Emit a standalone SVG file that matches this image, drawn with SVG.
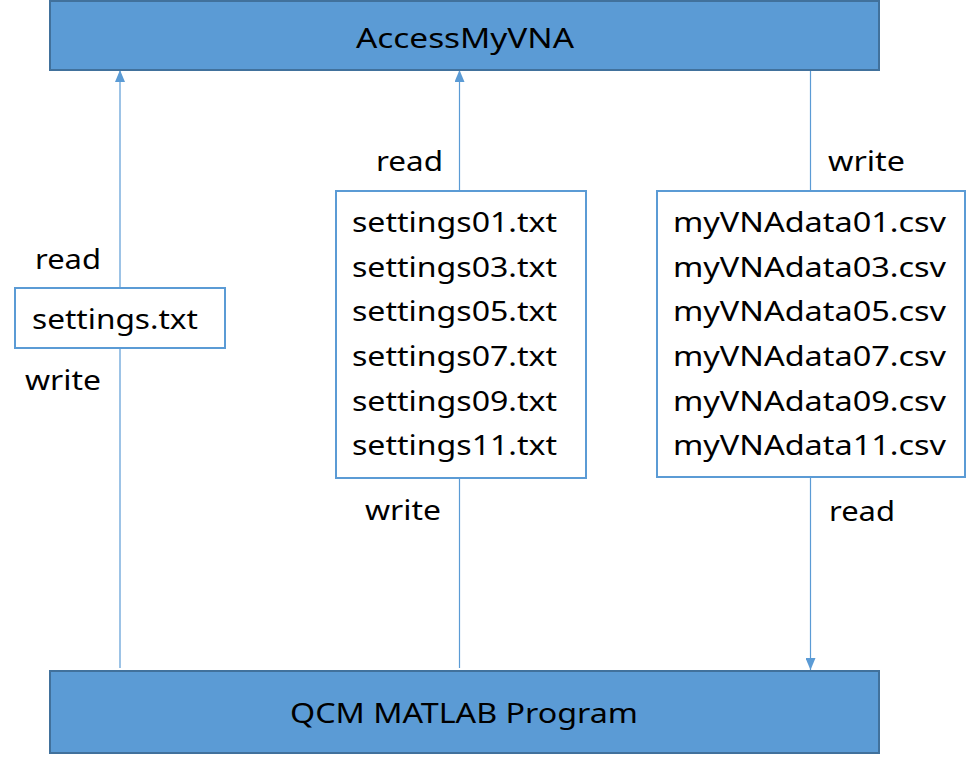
<svg xmlns="http://www.w3.org/2000/svg" width="970" height="758" viewBox="0 0 970 758">
<style>
.big{fill:#5b9bd5;stroke:#41719c;stroke-width:2}
.file{fill:#fff;stroke:#5b9bd5;stroke-width:2}
.t{font-family:"Noto Sans","Liberation Sans",sans-serif;font-size:28px;fill:#000}
.c{stroke:#5b9bd5;stroke-width:1.2;fill:none}
</style>
<defs>
<marker id="ah" markerWidth="12" markerHeight="10" refX="12" refY="5" orient="auto" markerUnits="userSpaceOnUse">
<path d="M0,0 L12,5 L0,10 Z" fill="#5b9bd5"/>
</marker>
</defs>
<g id="connectors">
<line class="c" x1="120" y1="668" x2="120" y2="70" marker-end="url(#ah)"/>
<line class="c" x1="459.5" y1="668" x2="459.5" y2="70" marker-end="url(#ah)"/>
<line class="c" x1="810.5" y1="70" x2="810.5" y2="670" marker-end="url(#ah)"/>
<text class="t" x="35" y="269" textLength="66" lengthAdjust="spacingAndGlyphs">read</text>
<text class="t" x="25" y="390" textLength="76" lengthAdjust="spacingAndGlyphs">write</text>
<text class="t" x="376" y="171" textLength="67" lengthAdjust="spacingAndGlyphs">read</text>
<text class="t" x="365" y="520" textLength="76" lengthAdjust="spacingAndGlyphs">write</text>
<text class="t" x="828" y="171" textLength="77" lengthAdjust="spacingAndGlyphs">write</text>
<text class="t" x="829" y="521" textLength="66" lengthAdjust="spacingAndGlyphs">read</text>
</g>
<g id="accessmyvna">
<rect class="big" x="50" y="1" width="829" height="69"/>
<text class="t" x="465" y="48" text-anchor="middle" textLength="218" lengthAdjust="spacingAndGlyphs">AccessMyVNA</text>
</g>
<g id="qcm">
<rect class="big" x="50" y="671" width="829" height="82"/>
<text class="t" x="464" y="723" text-anchor="middle" textLength="348" lengthAdjust="spacingAndGlyphs">QCM MATLAB Program</text>
</g>
<g id="settings">
<rect class="file" x="15" y="288" width="210" height="60"/>
<text class="t" x="32" y="329" textLength="166" lengthAdjust="spacingAndGlyphs">settings.txt</text>
</g>
<g id="settingsNN">
<rect class="file" x="336" y="191" width="250" height="287"/>
<text class="t" x="352" y="232" textLength="205" lengthAdjust="spacingAndGlyphs">settings01.txt</text>
<text class="t" x="352" y="277" textLength="205" lengthAdjust="spacingAndGlyphs">settings03.txt</text>
<text class="t" x="352" y="321" textLength="205" lengthAdjust="spacingAndGlyphs">settings05.txt</text>
<text class="t" x="352" y="366" textLength="205" lengthAdjust="spacingAndGlyphs">settings07.txt</text>
<text class="t" x="352" y="411" textLength="205" lengthAdjust="spacingAndGlyphs">settings09.txt</text>
<text class="t" x="352" y="455" textLength="205" lengthAdjust="spacingAndGlyphs">settings11.txt</text>
</g>
<g id="vnadata">
<rect class="file" x="657" y="191" width="308" height="286"/>
<text class="t" x="673" y="232" textLength="273" lengthAdjust="spacingAndGlyphs">myVNAdata01.csv</text>
<text class="t" x="673" y="277" textLength="273" lengthAdjust="spacingAndGlyphs">myVNAdata03.csv</text>
<text class="t" x="673" y="321" textLength="273" lengthAdjust="spacingAndGlyphs">myVNAdata05.csv</text>
<text class="t" x="673" y="366" textLength="273" lengthAdjust="spacingAndGlyphs">myVNAdata07.csv</text>
<text class="t" x="673" y="411" textLength="273" lengthAdjust="spacingAndGlyphs">myVNAdata09.csv</text>
<text class="t" x="673" y="455" textLength="273" lengthAdjust="spacingAndGlyphs">myVNAdata11.csv</text>
</g>
</svg>
